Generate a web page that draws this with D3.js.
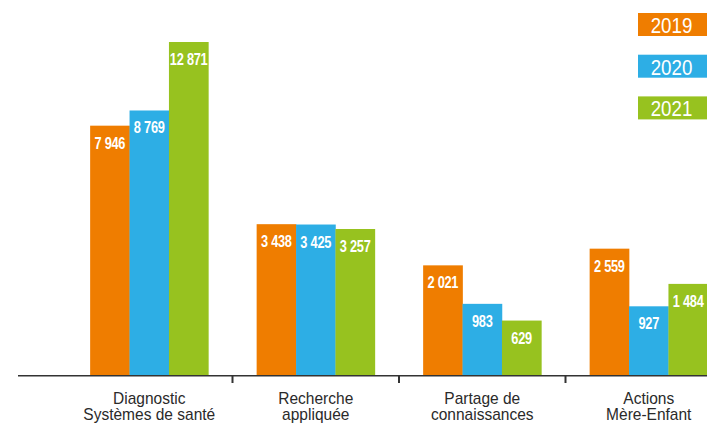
<!DOCTYPE html>
<html>
<head>
<meta charset="utf-8">
<script src="https://cdn.jsdelivr.net/npm/d3@7"></script>
<style>
  html, body { margin: 0; padding: 0; background: #fff; }
  svg { display: block; }
</style>
</head>
<body>
<svg id="chart" width="707" height="426"></svg>
<script>
// ---- data ----
const categories = ["Diagnostic Systèmes de santé", "Recherche appliquée", "Partage de connaissances", "Actions Mère-Enfant"];
const categoryLines = [["Diagnostic", "Systèmes de santé"], ["Recherche", "appliquée"], ["Partage de", "connaissances"], ["Actions", "Mère-Enfant"]];
const years = ["2019", "2020", "2021"];
const values2019 = [7946, 3438, 2021, 2559];
const values2020 = [8769, 3425, 983, 927];
const values2021 = [12871, 3257, 629, 1484];
const colors = ["#EF7D00", "#2DAEE5", "#97C21F"];

const series = [values2019, values2020, values2021];

// ---- layout ----
const W = 707, H = 426;
const baseY = 375;
const svg = d3.select("#chart");

const x = d3.scaleBand().domain(categories).range([66, 732]).paddingInner(0.29).paddingOuter(0.145);
const xIn = d3.scaleBand().domain(years).range([0, x.bandwidth()]);
const y = d3.scalePow().exponent(0.6).domain([0, 12871]).range([baseY, 42]);

const fmt = d3.formatLocale({ decimal: ",", thousands: " ", grouping: [3], currency: ["", "€"] }).format(",d");

const numFont = "'Liberation Sans', Arial, sans-serif";
const narrow = 0.8;

// bars
const groups = svg.selectAll("g.grp").data(categories).join("g")
  .attr("class", "grp")
  .attr("transform", d => `translate(${x(d)},0)`);

groups.each(function (cat, ci) {
  const g = d3.select(this);
  years.forEach((yr, si) => {
    const v = series[si][ci];
    g.append("rect")
      .attr("x", xIn(yr))
      .attr("y", y(v))
      .attr("width", xIn.bandwidth() + 0.3)
      .attr("height", baseY - y(v))
      .attr("fill", colors[si]);
    g.append("text")
      .attr("transform", `translate(${xIn(yr) + xIn.bandwidth() / 2},${y(v) + 23}) scale(${narrow},1)`)
      .attr("text-anchor", "middle")
      .attr("fill", "#fff")
      .attr("font-family", numFont)
      .attr("font-weight", "bold")
      .attr("font-size", 16)
      .attr("letter-spacing", -0.3)
      .text(fmt(v));
  });
});

// axis line
svg.append("line")
  .attr("x1", 18).attr("x2", W)
  .attr("y1", baseY + 0.75).attr("y2", baseY + 0.75)
  .attr("stroke", "#333").attr("stroke-width", 1.5);

// ticks between categories
const step = x.step();
categories.slice(1).forEach(c => {
  const tx = x(c) - step * x.paddingInner() / 2;
  svg.append("line")
    .attr("x1", tx).attr("x2", tx)
    .attr("y1", baseY).attr("y2", baseY + 8)
    .attr("stroke", "#333").attr("stroke-width", 2);
});

// category labels
categories.forEach((c, i) => {
  const cx = x(c) + x.bandwidth() / 2;
  categoryLines[i].forEach((line, li) => {
    svg.append("text")
      .attr("transform", `translate(${cx},${403.5 + li * 16.5}) scale(0.97,1)`)
      .attr("text-anchor", "middle")
      .attr("fill", "#2a2a2a")
      .attr("font-family", "'Liberation Sans', Arial, sans-serif")
      .attr("font-size", 16)
      .text(line);
  });
});

// legend
const leg = d3.scaleBand().domain(years).range([13, 13 + 3 * 41.7]);
years.forEach((yr, i) => {
  svg.append("rect")
    .attr("x", 638).attr("y", leg(yr))
    .attr("width", W - 638).attr("height", 23)
    .attr("fill", colors[i]);
  svg.append("text")
    .attr("transform", `translate(671.5,${leg(yr) + 20}) scale(0.85,1)`)
    .attr("text-anchor", "middle")
    .attr("fill", "#fff")
    .attr("font-family", numFont)
    .attr("font-size", 22)
    .text(yr);
});
</script>
</body>
</html>
